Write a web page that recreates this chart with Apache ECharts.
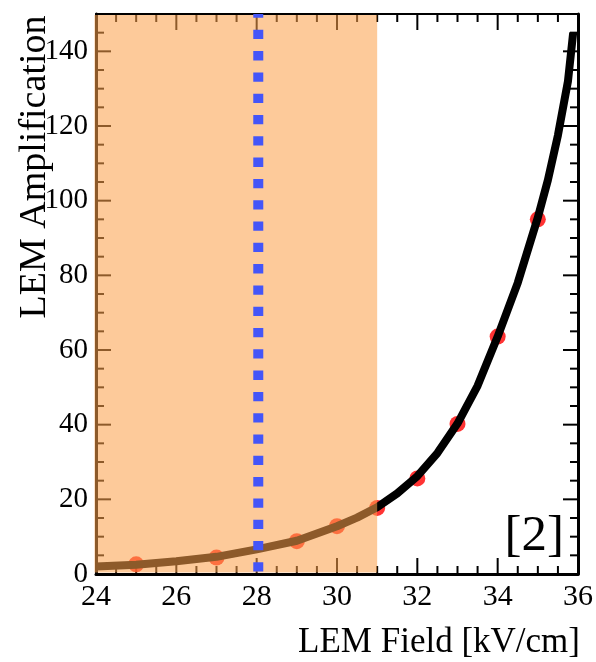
<!DOCTYPE html>
<html><head><meta charset="utf-8">
<script src="https://cdn.jsdelivr.net/npm/echarts@6/dist/echarts.min.js"></script>
<style>html,body{margin:0;padding:0;background:#fff}#c{width:596px;height:662px}</style>
</head><body><div id="c"></div>
<script>
// ---- data ----
const pointX = [25, 27, 29, 30, 31, 32, 33, 34, 35];
const pointY = [2.6, 4.4, 8.8, 12.8, 17.7, 25.6, 40.2, 63.6, 95.0];
const curveX = [24, 25, 26, 27, 28, 29, 30, 30.5, 31, 31.5, 32, 32.5, 33, 33.5, 34, 34.5, 35, 35.25, 35.5, 35.75, 35.88];
const curveY = [2.0, 2.5, 3.4, 4.6, 6.6, 8.9, 12.8, 15.1, 17.9, 21.6, 26.2, 32.4, 40.3, 50.4, 63.6, 78.0, 95.5, 105.5, 117.5, 132.0, 145.0];
const bandX = [24, 31];
const cutX = 28.04;
const xTickLabels = ['24', '26', '28', '30', '32', '34', '36'];
const yTickLabels = ['0', '20', '40', '60', '80', '100', '120', '140'];
const yTop = 150;
const xMinorPerMajor = 4;
const yMinorStep = 5;
const xTitle = 'LEM Field [kV/cm]';
const yTitle = 'LEM Amplification';
const tag = '[2]';

// ---- derived ----
const xMin = +xTickLabels[0], xMax = +xTickLabels[xTickLabels.length - 1];
const xStep = +xTickLabels[1] - +xTickLabels[0];
const yMin = +yTickLabels[0], yStep = +yTickLabels[1] - +yTickLabels[0];
const serif = '"Liberation Serif", "DejaVu Serif", serif';

// inward tick marks on all four sides, drawn as small rect symbols at the axis values
const tickMarks = [];
for (let i = 0; i <= (xMax - xMin) / xStep * xMinorPerMajor; i++) {
  const v = xMin + i * xStep / xMinorPerMajor;
  const len = i % xMinorPerMajor === 0 ? 16 : 8;
  tickMarks.push({value: [v, yMin], symbolSize: [2, len], symbolOffset: [0, -len / 2]});
  tickMarks.push({value: [v, yTop], symbolSize: [2, len], symbolOffset: [0, len / 2]});
}
for (let v = yMin; v < yTop; v += yMinorStep) {
  const len = v % yStep === 0 ? 15 : 8;
  tickMarks.push({value: [xMin, v], symbolSize: [len, 2], symbolOffset: [len / 2, 0]});
  tickMarks.push({value: [xMax, v], symbolSize: [len, 2], symbolOffset: [-len / 2, 0]});
}

function axisCommon(lineWidth, showLabel, size, hideMax) {
  return {
    axisLine: {show: true, onZero: false, lineStyle: {color: '#000', width: lineWidth}},
    axisTick: {show: false},
    minorTick: {show: false},
    splitLine: {show: false},
    minorSplitLine: {show: false},
    axisLabel: {show: showLabel, showMaxLabel: hideMax ? false : true, showMinLabel: true,
                fontFamily: serif, fontSize: size, color: '#000', margin: 8}
  };
}

const chart = echarts.init(document.getElementById('c'), null, {renderer: 'canvas'});
chart.setOption({
  animation: false,
  backgroundColor: '#fff',
  grid: {left: 96, right: 14, top: 14, bottom: 88, containLabel: false},
  xAxis: [
    Object.assign({type: 'value', position: 'bottom', min: xMin, max: xMax, interval: xStep}, axisCommon(3, true, 30, false)),
    Object.assign({type: 'value', position: 'top', min: xMin, max: xMax, interval: xStep}, axisCommon(2, false, 30, false))
  ],
  yAxis: [
    Object.assign({type: 'value', position: 'left', min: yMin, max: yTop, interval: yStep}, axisCommon(3, true, 29, true)),
    Object.assign({type: 'value', position: 'right', min: yMin, max: yTop, interval: yStep}, axisCommon(3, false, 29, true))
  ],
  series: [
    {
      type: 'scatter', z: 1, silent: true, clip: false,
      data: tickMarks,
      symbol: 'rect',
      itemStyle: {color: '#000', opacity: 1},
      emphasis: {disabled: true}
    },
    {
      type: 'scatter', z: 2,
      data: pointX.map((x, i) => [x, pointY[i]]),
      symbol: 'circle', symbolSize: 16,
      itemStyle: {color: '#ff0000'}
    },
    {
      type: 'line', z: 3,
      data: curveX.map((x, i) => [x, curveY[i]]),
      showSymbol: false, smooth: false,
      lineStyle: {color: '#000', width: 8, join: 'round'}
    },
    {
      type: 'custom', z: 4, silent: true,
      data: [bandX],
      renderItem: function (params, api) {
        const p0 = api.coord([api.value(0), yTop]);
        const p1 = api.coord([api.value(1), yMin]);
        return {
          type: 'rect',
          shape: {x: p0[0] - 1.5, y: p0[1] + 1, width: p1[0] - p0[0] + 1.5, height: p1[1] - p0[1] - 2.5},
          style: {fill: 'rgba(251,161,75,0.56)'}
        };
      }
    },
    {
      type: 'line', z: 5,
      data: [[cutX, yTop], [cutX, yMin]],
      showSymbol: false,
      lineStyle: {color: '#4455f8', width: 10, type: [9.3, 12], dashOffset: 5.5, cap: 'butt'}
    }
  ],
  graphic: [
    {type: 'text', x: 35, y: 167, rotation: Math.PI / 2, z: 10,
     style: {text: yTitle, font: '38px ' + serif, fill: '#000', align: 'center', verticalAlign: 'middle'}},
    {type: 'text', x: 580, y: 643, z: 10,
     style: {text: xTitle, font: '35px ' + serif, fill: '#000', align: 'right', verticalAlign: 'middle'}},
    {type: 'text', x: 564, y: 537, z: 10,
     style: {text: tag, font: '51px ' + serif, fill: '#000', align: 'right', verticalAlign: 'middle'}}
  ]
});
</script>
</body></html>
